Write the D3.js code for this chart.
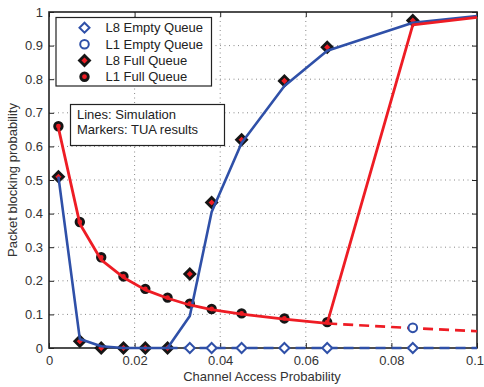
<!DOCTYPE html>
<html><head><meta charset="utf-8">
<script src="https://cdn.jsdelivr.net/npm/d3@7"></script>
<style>body{margin:0;background:#fff;}svg{display:block;font-family:"Liberation Sans",Arial,sans-serif;}</style>
</head><body>
<svg id="c" width="484" height="387"></svg>
<script>
// ---- data ----
const xPts = [0.0022, 0.0072, 0.0122, 0.0174, 0.0225, 0.0277, 0.0329, 0.038, 0.045, 0.055, 0.065, 0.085];
const l8FullMarkers = [0.51, 0.02, 0.0, 0.0, 0.0, 0.0, 0.22, 0.433, 0.62, 0.795, 0.895, 0.975];
const l1FullMarkers = [0.66, 0.375, 0.27, 0.213, 0.176, 0.15, 0.132, 0.116, 0.103, 0.088, 0.077];
const l8EmptyX = [0.0329, 0.038, 0.045, 0.055, 0.065, 0.085];
const l8EmptyMarkers = [0, 0, 0, 0, 0, 0];
const l1EmptyX = [0.085];
const l1EmptyMarkers = [0.06];
const l8SimX = [0.0022, 0.0072, 0.0122, 0.0174, 0.0225, 0.0277, 0.0329, 0.038, 0.045, 0.055, 0.065, 0.085, 0.1];
const l8SimY = [0.51, 0.027, 0.005, 0.0, 0.0, 0.0, 0.095, 0.405, 0.61, 0.78, 0.885, 0.968, 0.988];
const l1SimX = [0.0022, 0.0072, 0.0122, 0.0174, 0.0225, 0.0277, 0.0329, 0.038, 0.045, 0.055, 0.065, 0.085, 0.1];
const l1SimY = [0.655, 0.37, 0.262, 0.21, 0.173, 0.148, 0.128, 0.114, 0.101, 0.086, 0.073, 0.962, 0.984];
const l8EmptySimX = [0.0277, 0.1];
const l8EmptySimY = [0, 0];
const l1EmptySimX = [0.065, 0.085, 0.1];
const l1EmptySimY = [0.073, 0.059, 0.05];
const xTicks = [0, 0.02, 0.04, 0.06, 0.08, 0.1];
const xTickLabels = ["0", "0.02", "0.04", "0.06", "0.08", "0.1"];
const yTicks = [0, 0.1, 0.2, 0.3, 0.4, 0.5, 0.6, 0.7, 0.8, 0.9, 1];
const yTickLabels = ["0", "0.1", "0.2", "0.3", "0.4", "0.5", "0.6", "0.7", "0.8", "0.9", "1"];
const legendLabels = ["L8 Empty Queue", "L1 Empty Queue", "L8 Full Queue", "L1 Full Queue"];
const noteLines = ["Lines: Simulation", "Markers: TUA results"];
const xLabel = "Channel Access Probability";
const yLabel = "Packet blocking probability";

// ---- layout ----
const L = 49, R = 477, T = 12, B = 348;
const BLUE = "#2f50a8", RED = "#ee1c24", INK = "#151515";
const FONT = "13px";
const svg = d3.select("#c");
const x = d3.scaleLinear().domain([0, 0.1]).range([L, R]);
const y = d3.scaleLinear().domain([0, 1]).range([B, T]);

// grid
const g = svg.append("g");
g.selectAll(".gx").data(xTicks.slice(1, -1)).enter().append("line")
  .attr("x1", d => x(d)).attr("x2", d => x(d)).attr("y1", T).attr("y2", B)
  .attr("stroke", "#888").attr("stroke-width", 1).attr("stroke-dasharray", "1,3.5");
g.selectAll(".gy").data(yTicks.slice(1, -1)).enter().append("line")
  .attr("y1", d => y(d)).attr("y2", d => y(d)).attr("x1", L).attr("x2", R)
  .attr("stroke", "#888").attr("stroke-width", 1).attr("stroke-dasharray", "1,3.5");

// axes
const xAxis = d3.axisBottom(x).tickValues(xTicks).tickFormat((d, i) => xTickLabels[i]).tickSize(-5).tickPadding(8);
const xAxisTop = d3.axisTop(x).tickValues(xTicks).tickFormat("").tickSize(-5);
const yAxis = d3.axisLeft(y).tickValues(yTicks).tickFormat((d, i) => yTickLabels[i]).tickSize(-5).tickPadding(6);
const yAxisR = d3.axisRight(y).tickValues(yTicks).tickFormat("").tickSize(-5);
function styleAxis(sel) {
  sel.select(".domain").remove();
  sel.selectAll("line").attr("stroke", "#222");
  sel.selectAll("text").attr("fill", "#333").style("font-size", FONT).style("font-family", '"Liberation Sans",Arial,sans-serif');
}
const gx = svg.append("g").attr("transform", `translate(0,${B})`).call(xAxis).call(styleAxis);
gx.selectAll(".tick text").filter((d, i) => i === xTicks.length - 1).attr("dx", "-2.5");
svg.append("g").attr("transform", `translate(0,${T})`).call(xAxisTop).call(styleAxis);
svg.append("g").attr("transform", `translate(${L},0)`).call(yAxis).call(styleAxis);
svg.append("g").attr("transform", `translate(${R},0)`).call(yAxisR).call(styleAxis);
svg.append("rect").attr("x", L).attr("y", T).attr("width", R - L).attr("height", B - T)
  .attr("fill", "none").attr("stroke", "#222").attr("stroke-width", 1.6);

// axis labels
svg.append("text").attr("x", 262).attr("y", 381).attr("text-anchor", "middle")
  .attr("fill", "#333").style("font-size", FONT).text(xLabel);
svg.append("text").attr("transform", `translate(17,${(T + B) / 2}) rotate(-90)`).attr("text-anchor", "middle")
  .attr("fill", "#333").style("font-size", FONT).text(yLabel);

const zip = (a, b) => a.map((v, i) => [v, b[i]]);

// markers (drawn under the lines, as in the reference)
const diamond = (cx, cy, r) => `M${cx},${cy - r}L${cx + r},${cy}L${cx},${cy + r}L${cx - r},${cy}Z`;
function drawDiamonds(xs, ys, fill, stroke, r, sw) {
  svg.append("g").selectAll("path").data(zip(xs, ys)).enter().append("path")
    .attr("d", d => diamond(x(d[0]), y(d[1]), r))
    .attr("fill", fill).attr("stroke", stroke).attr("stroke-width", sw);
}
function drawCircles(xs, ys, fill, stroke, r, sw) {
  svg.append("g").selectAll("circle").data(zip(xs, ys)).enter().append("circle")
    .attr("cx", d => x(d[0])).attr("cy", d => y(d[1])).attr("r", r)
    .attr("fill", fill).attr("stroke", stroke).attr("stroke-width", sw);
}
drawCircles(xPts.slice(0, l1FullMarkers.length), l1FullMarkers, RED, INK, 3.8, 2.8);
drawDiamonds(xPts, l8FullMarkers, RED, INK, 5, 2.8);

// lines
const line = d3.line().x(d => x(d[0])).y(d => y(d[1]));
svg.append("path").datum(zip(l8EmptySimX, l8EmptySimY)).attr("d", line)
  .attr("fill", "none").attr("stroke", BLUE).attr("stroke-width", 2.5).attr("stroke-dasharray", "10,6");
svg.append("path").datum(zip(l8SimX, l8SimY)).attr("d", line)
  .attr("fill", "none").attr("stroke", BLUE).attr("stroke-width", 2.6).attr("stroke-linejoin", "round");
svg.append("path").datum(zip(l1EmptySimX, l1EmptySimY)).attr("d", line)
  .attr("fill", "none").attr("stroke", RED).attr("stroke-width", 2.6).attr("stroke-dasharray", "10,6");
svg.append("path").datum(zip(l1SimX, l1SimY)).attr("d", line)
  .attr("fill", "none").attr("stroke", RED).attr("stroke-width", 2.8).attr("stroke-linejoin", "round");

// hollow markers on top
drawDiamonds(l8EmptyX, l8EmptyMarkers, "#fff", BLUE, 5, 2);
drawCircles(l1EmptyX, l1EmptyMarkers, "#fff", BLUE, 4.3, 2);

// legend
const lg = svg.append("g");
lg.append("rect").attr("x", 56).attr("y", 17.5).attr("width", 155.5).attr("height", 68.5)
  .attr("fill", "#fff").attr("stroke", "#222").attr("stroke-width", 1.2);
const rowsY = [27.7, 44.2, 60.5, 76.7];
const mx = 84.5;
lg.append("path").attr("d", diamond(mx, rowsY[0], 5)).attr("fill", "#fff").attr("stroke", BLUE).attr("stroke-width", 2);
lg.append("circle").attr("cx", mx).attr("cy", rowsY[1]).attr("r", 4.3).attr("fill", "#fff").attr("stroke", BLUE).attr("stroke-width", 2);
lg.append("path").attr("d", diamond(mx, rowsY[2], 5)).attr("fill", RED).attr("stroke", INK).attr("stroke-width", 2.8);
lg.append("circle").attr("cx", mx).attr("cy", rowsY[3]).attr("r", 3.8).attr("fill", RED).attr("stroke", INK).attr("stroke-width", 2.8);
lg.selectAll("text").data(legendLabels).enter().append("text")
  .attr("x", 105.5).attr("y", (d, i) => rowsY[i] + 4.6)
  .attr("fill", "#222").style("font-size", FONT).text(d => d);

// note box
const nb = svg.append("g");
nb.append("rect").attr("x", 70.5).attr("y", 104.5).attr("width", 154).attr("height", 41)
  .attr("fill", "#fff").attr("stroke", "#222").attr("stroke-width", 1.2);
nb.selectAll("text").data(noteLines).enter().append("text")
  .attr("x", 77).attr("y", (d, i) => 119 + i * 15)
  .attr("fill", "#222").style("font-size", FONT).text(d => d);
</script>
</body></html>
